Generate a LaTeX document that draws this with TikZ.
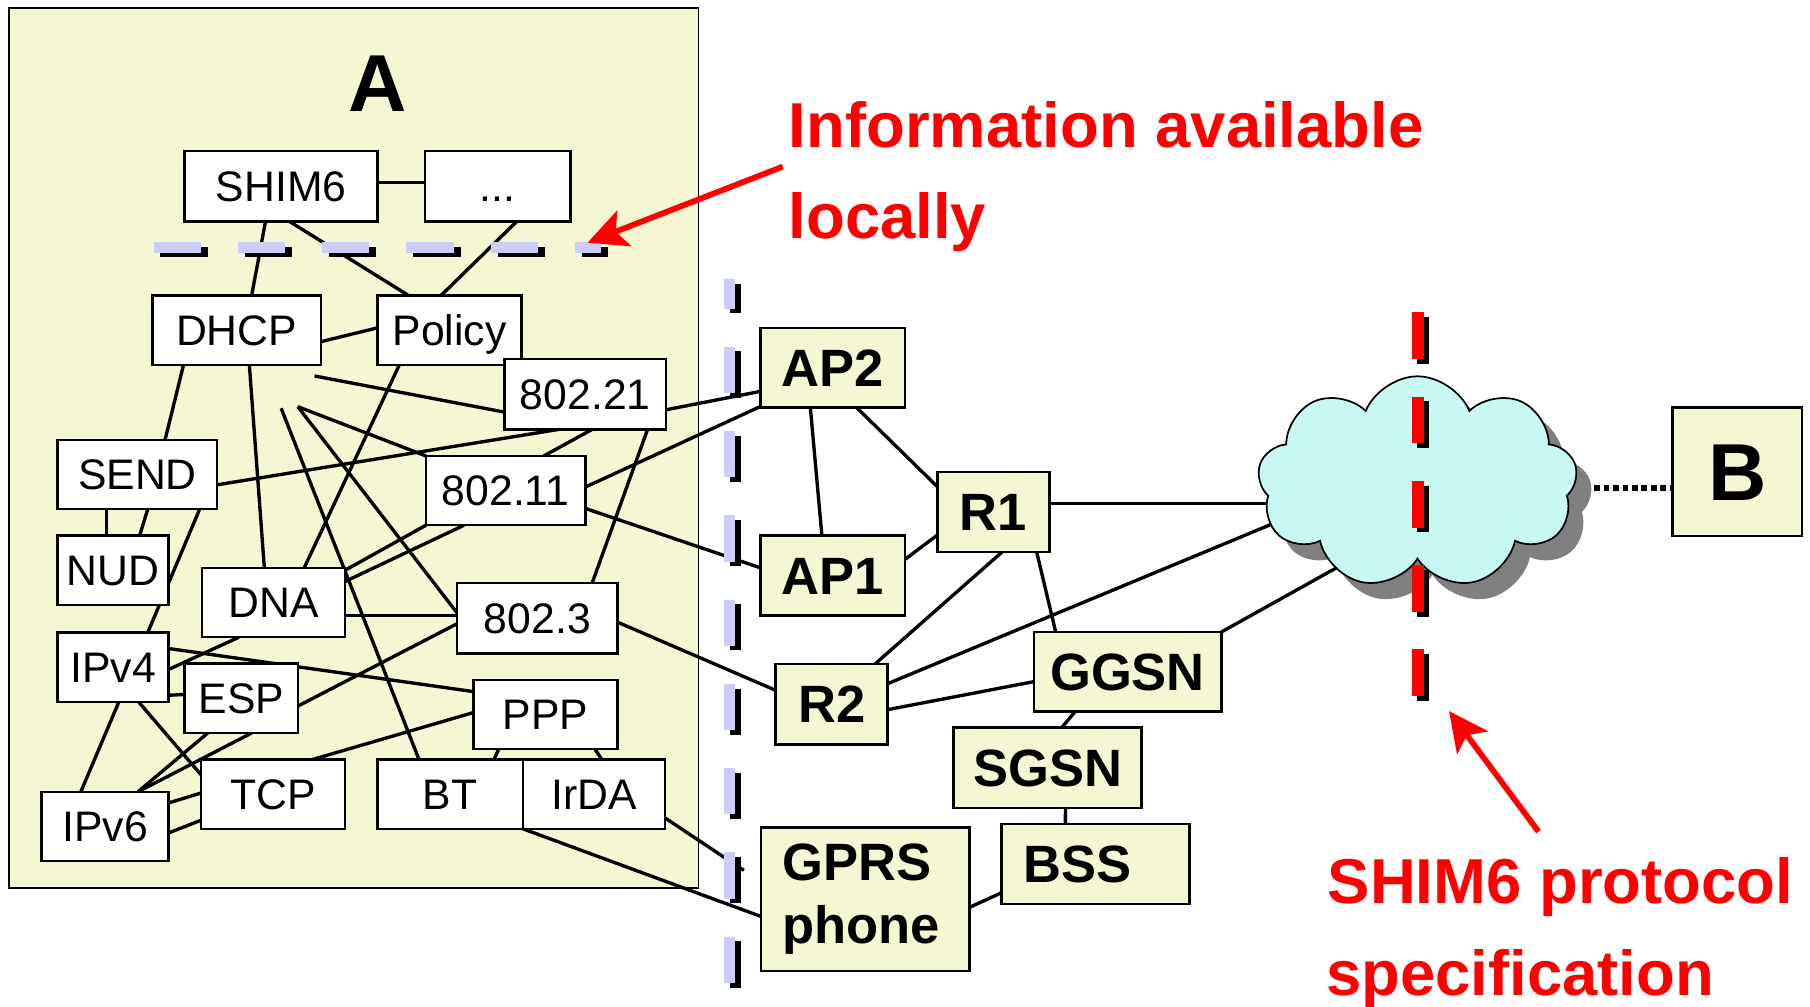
\documentclass[tikz,border=0pt]{standalone}
\usepackage{fontspec}
\setmainfont{Liberation Sans}
\usetikzlibrary{shapes.symbols,shadows,arrows.meta}
\definecolor{panel}{RGB}{245,247,211}
\definecolor{lav}{RGB}{204,204,255}
\definecolor{cloudc}{RGB}{200,248,244}
\definecolor{redc}{RGB}{255,0,0}
\pgfdeclarelayer{panelL}
\pgfdeclarelayer{linkL}
\pgfsetlayers{panelL,linkL,main}
\tikzset{
  pbox/.style={draw=black, line width=2.2pt, fill=white, inner sep=0pt, outer sep=0pt,
    font=\fontsize{37}{40}\selectfont, text height=26.5pt, text depth=0pt},
  rbox/.style={draw=black, line width=2.2pt, fill=panel, inner sep=0pt, outer sep=0pt,
    font=\fontsize{45.5}{55}\selectfont\bfseries},
  rboxt/.style={rbox, text height=32.6pt, text depth=0pt},
  link/.style={line width=2.9pt, black},
  redlbl/.style={text=redc, font=\fontsize{55}{60}\selectfont\bfseries, inner sep=0pt, anchor=base west},
  redarrow/.style={draw=redc, line width=5pt, -{Stealth[length=34pt,width=33pt,inset=8pt]}},
  dotline/.style={line width=5pt, black, dash pattern=on 5pt off 3.2pt},
}
\begin{document}
\begin{tikzpicture}[x=1pt,y=-1pt]
\useasboundingbox (0,0) rectangle (1568,872);
\begin{pgfonlayer}{panelL}
  \fill[white] (0,0) rectangle (1568,872);
  \node[draw=black, fill=panel, line width=1.5pt, inner sep=0pt, minimum width=597pt, minimum height=762pt] (panelA) at (306.5,388) {};
\end{pgfonlayer}

% title A
\node[font=\fontsize{70}{70}\selectfont\bfseries, text height=50pt, text depth=0pt, inner sep=0pt] (Alabel) at (327,72) {A};

% left boxes
\node[pbox, minimum width=167pt, minimum height=61pt] (shim) at (243.5,161.5) {SHIM6};
\node[pbox, minimum width=126pt, minimum height=61pt] (dots) at (431,161.5) {...};
\node[pbox, minimum width=146pt, minimum height=60pt] (dhcp) at (205,286) {DHCP};
\node[pbox, minimum width=125pt, minimum height=60pt] (policy) at (389.5,286) {Policy};
\node[pbox, minimum width=140pt, minimum height=61pt] (w21) at (507,341.5) {802.21};
\node[pbox, minimum width=138pt, minimum height=60pt] (send) at (119,411) {SEND};
\node[pbox, minimum width=138pt, minimum height=60pt] (w11) at (438,425) {802.11};
\node[pbox, minimum width=96pt, minimum height=60pt] (nud) at (98,494) {NUD};
\node[pbox, minimum width=124pt, minimum height=60pt] (dna) at (237,522) {DNA};
\node[pbox, minimum width=139pt, minimum height=61pt] (w3) at (465.5,535.5) {802.3};
\node[pbox, minimum width=96pt, minimum height=60pt] (ipv4) at (98,578) {IPv4};
\node[pbox, minimum width=98pt, minimum height=60pt] (esp) at (209,605) {ESP};
\node[pbox, minimum width=125pt, minimum height=60pt] (ppp) at (472.5,619) {PPP};
\node[pbox, minimum width=125pt, minimum height=60pt] (tcp) at (236.5,688) {TCP};
\node[pbox, minimum width=126pt, minimum height=60pt] (bt) at (390,688) {BT};
\node[pbox, minimum width=123pt, minimum height=60pt] (irda) at (514.5,688) {IrDA};
\node[pbox, minimum width=110pt, minimum height=60pt] (ipv6) at (91,716) {IPv6};

% right boxes
\node[rboxt, minimum width=125pt, minimum height=69pt] (ap2) at (721.5,318.5) {AP2};
\node[rboxt, minimum width=125pt, minimum height=69pt] (ap1) at (721.5,498.5) {AP1};
\node[rboxt, minimum width=97pt, minimum height=69pt] (r1) at (860.5,443.5) {R1};
\node[rboxt, minimum width=97pt, minimum height=69.5pt] (r2) at (720.5,610) {R2};
\node[rboxt, minimum width=162.5pt, minimum height=69pt] (ggsn) at (976.8,582) {GGSN};
\node[rboxt, minimum width=163pt, minimum height=69.6pt] (sgsn) at (907.5,665.2) {SGSN};
\node[rboxt, minimum width=163pt, minimum height=69pt, text width=125pt, align=left] (bss) at (949,748.5) {BSS};
\node[rbox, minimum width=180.6pt, minimum height=124pt, text width=144pt, align=left] (gprs) at (749.7,779) {GPRS\\phone};
\node[rbox, minimum width=112pt, minimum height=111pt, font=\fontsize{70}{70}\selectfont\bfseries, text height=50pt, text depth=0pt] (B) at (1505,408.7) {B};

% cloud
\node[cloud, cloud puffs=9, cloud puff arc=135, aspect=1.5, draw=black, line width=1.5pt, fill=cloudc,
  minimum width=277pt, minimum height=184pt, inner sep=0pt,
  drop shadow={shadow xshift=13pt, shadow yshift=-14pt, fill=black!50, opacity=1}] (cloud) at (1228,418) {};

\begin{pgfonlayer}{linkL}
% inside A
\draw[link] ([shift={(0,-3.5)}]shim.east) -- ([shift={(0,-3.5)}]dots.west);
\draw[link] ([shift={(70,0)}]shim.south west) -- ([shift={(86,0)}]dhcp.north west);
\draw[link] ([shift={(91,0)}]shim.south west) -- ([shift={(27,0)}]policy.north west);
\draw[link] ([shift={(79.5,0)}]dots.south west) -- ([shift={(55,0)}]policy.north west);
\draw[link] ([shift={(0,40)}]dhcp.north east) -- ([shift={(0,28)}]policy.north west);
\draw[link] ([shift={(140.5,9.7)}]dhcp.south west) -- ([shift={(0,46)}]w21.north west);
\draw[link] ([shift={(27,0)}]dhcp.south west) -- ([shift={(93,0)}]send.north west);
\draw[link] ([shift={(84,0)}]dhcp.south west) -- ([shift={(54,0)}]dna.north west);
\draw[link] ([shift={(19,0)}]policy.south west) -- ([shift={(88.5,0)}]dna.north west);
\draw[link] ([shift={(0,39)}]send.north east) -- ([shift={(47,0)}]w21.south west);
\draw[link] ([shift={(76,0)}]w21.south west) -- ([shift={(102,0)}]w11.north west);
\draw[link] ([shift={(124,0)}]w21.south west) -- ([shift={(117,0)}]w3.north west);
\draw[link] ([shift={(111.6,37.7)}]dhcp.south west) -- ([shift={(36,0)}]bt.north west);
\draw[link] ([shift={(126,36.3)}]dhcp.south west) -- (w11.north west);
\draw[link] ([shift={(126,36.3)}]dhcp.south west) -- ([shift={(0,26)}]w3.north west);
\draw[link] ([shift={(0,41.3)}]dna.north east) -- ([shift={(0,28.3)}]w3.north west);
\draw[link] ([shift={(0,2)}]dna.north east) -- (w11.south west);
\draw[link] ([shift={(0,11.7)}]dna.north east) -- ([shift={(33,0)}]w11.south west);
\draw[link] ([shift={(32,0)}]dna.south west) -- ([shift={(0,32)}]ipv4.north east);
\draw[link] ([shift={(0,13.8)}]ipv4.north east) -- ([shift={(0,10.1)}]ppp.north west);
\draw[link] ([shift={(0,54.3)}]ipv4.north east) -- ([shift={(0,26.6)}]esp.north west);
\draw[link] ([shift={(42,0)}]send.south west) -- ([shift={(42,0)}]nud.north west);
\draw[link] ([shift={(78,0)}]send.south west) -- ([shift={(71,0)}]nud.north west);
\draw[link] ([shift={(123,0)}]send.south west) -- ([shift={(78,0)}]ipv4.north west);
\draw[link] ([shift={(53,0)}]ipv4.south west) -- ([shift={(34,0)}]ipv6.north west);
\draw[link] ([shift={(70,0)}]ipv4.south west) -- ([shift={(0,13)}]tcp.north west);
\draw[link] ([shift={(20,0)}]esp.south west) -- ([shift={(83.4,0)}]ipv6.north west);
\draw[link] ([shift={(58,0)}]esp.south west) -- ([shift={(83.4,0)}]ipv6.north west);
\draw[link] ([shift={(0,36.7)}]esp.north east) -- ([shift={(0,35.3)}]w3.north west);
\draw[link] ([shift={(0,28.3)}]ppp.north west) -- ([shift={(96.6,0)}]tcp.north west);
\draw[link] ([shift={(22,0)}]ppp.south west) -- ([shift={(101,0)}]bt.north west);
\draw[link] ([shift={(105.4,0)}]ppp.south west) -- ([shift={(68.4,0)}]irda.north west);
\draw[link] ([shift={(0,9.6)}]ipv6.north east) -- ([shift={(0,29)}]tcp.north west);
\draw[link] ([shift={(0,35.6)}]ipv6.north east) -- ([shift={(0,52.6)}]tcp.north west);
% A to outside
\draw[link] ([shift={(0,44)}]w21.north east) -- ([shift={(0,55)}]ap2.north west);
\draw[link] ([shift={(0,27)}]w11.north east) -- ([shift={(0,68)}]ap2.north west);
\draw[link] ([shift={(0,45.4)}]w11.north east) -- ([shift={(0,28)}]ap1.north west);
\draw[link] ([shift={(0,34)}]w3.north east) -- ([shift={(0,22.8)}]r2.north west);
\draw[link] ([shift={(0,50.5)}]irda.north east) -- ([shift={(-15,37)}]gprs.north west);
\draw[link] (bt.south east) -- ([shift={(0,77)}]gprs.north west);
% network
\draw[link] ([shift={(43,0)}]ap2.south west) -- ([shift={(53,0)}]ap1.north west);
\draw[link] ([shift={(83,0)}]ap2.south west) -- ([shift={(0,12.6)}]r1.north west);
\draw[link] ([shift={(0,20.6)}]ap1.north east) -- ([shift={(0,54.5)}]r1.north west);
\draw[link] ([shift={(0,-7.5)}]r1.east) -- ([shift={(-68,18)}]cloud.center);
\draw[link] ([shift={(56.3,0)}]r1.south west) -- ([shift={(86,0)}]r2.north west);
\draw[link] ([shift={(86,0)}]r1.south west) -- ([shift={(19,0)}]ggsn.north west);
\draw[link] ([shift={(0,17)}]r2.north east) -- ([shift={(-78,16)}]cloud.center);
\draw[link] ([shift={(0,39.5)}]r2.north east) -- ([shift={(0,43)}]ggsn.north west);
\draw[link] (ggsn.north east) -- ([shift={(-48,61.5)}]cloud.center);
\draw[link] ([shift={(35.8,0)}]ggsn.south west) -- ([shift={(93.7,0)}]sgsn.north west);
\draw[link] ([shift={(97,0)}]sgsn.south west) -- ([shift={(55.4,0)}]bss.north west);
\draw[link] ([shift={(0,59.4)}]bss.north west) -- ([shift={(0,69)}]gprs.north east);
\end{pgfonlayer}

% dotted link cloud - B
\coordinate (cloudR) at ([shift={(153,5)}]cloud.center);
\draw[dotline] (cloudR) -- (cloudR -| B.west);

% lavender dashed lines with black shadow
\draw[line width=9pt, black, dash pattern=on 41pt off 32pt] (139,218.5) -- (527,218.5);
\draw[line width=9pt, lav, dash pattern=on 41pt off 32pt] (133,214.5) -- (521,214.5);
\draw[line width=10pt, black, dash pattern=on 40pt off 33pt, dash phase=14.5pt] (637,246) -- (637,856);
\draw[line width=10pt, lav, dash pattern=on 40pt off 33pt, dash phase=14.5pt] (632,242) -- (632,852);

% red dashed line
\draw[line width=10pt, black, dash pattern=on 40.5pt off 32.5pt] (1232.7,274.6) -- (1232.7,607);
\draw[line width=10pt, redc, dash pattern=on 40.5pt off 32.5pt] (1228.3,270.6) -- (1228.3,603);

% red labels and arrows
\node[redlbl] (info1) at (683,127.7) {Information available};
\node[redlbl] (info2) at (683,207) {locally};
\node[redlbl] (spec1) at (1150,782.6) {SHIM6 protocol};
\node[redlbl] (spec2) at (1148.5,862) {specification};
\coordinate (infoTail) at (678,144.4);
\coordinate (infoTip) at (509,210.2);
\draw[redarrow] (infoTail) -- (infoTip);
\coordinate (specTail) at (1332.8,720.5);
\coordinate (specTip) at (1255.3,616);
\draw[redarrow] (specTail) -- (specTip);
\end{tikzpicture}
\end{document}
